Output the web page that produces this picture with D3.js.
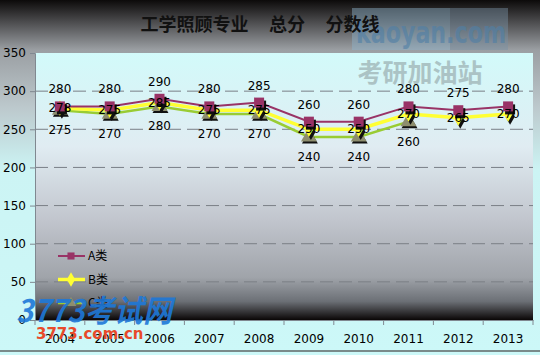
<!DOCTYPE html>
<html>
<head>
<meta charset="utf-8">
<script src="https://cdn.jsdelivr.net/npm/d3@7"></script>
<style>
  body { margin: 0; }
  svg { display: block; }
  text { font-family: "DejaVu Sans", sans-serif; }
</style>
</head>
<body>
<svg id="chart" width="540" height="355"></svg>
<script>
// data
const years = ['2004', '2005', '2006', '2007', '2008', '2009', '2010', '2011', '2012', '2013'];
const seriesA = [280, 280, 290, 280, 285, 260, 260, 280, 275, 280];
const seriesB = [278, 275, 285, 275, 275, 250, 250, 270, 265, 270];
const seriesC = [275, 270, 280, 270, 270, 240, 240, 260, null, null];
const yTicks = [0, 50, 100, 150, 200, 250, 300, 350];
const title = '工学照顾专业\u00a0\u00a0\u00a0\u00a0\u00a0总分\u00a0\u00a0\u00a0\u00a0\u00a0分数线';

const svg = d3.select('#chart');
const plotLeft = 35, plotRight = 533, plotTop = 53, plotBottom = 320;

// gradients
const defs = svg.append('defs');
const bg = defs.append('linearGradient').attr('id', 'bg').attr('x1', 0).attr('y1', 0).attr('x2', 0).attr('y2', 1);
[[0, '#0c0a0a'], [0.06, '#4a4a4c'], [0.14, '#9a9ea2'], [0.3, '#bcc8cc'], [0.48, '#ccf4f4'], [1, '#ccf8f8']]
  .forEach(([o, c]) => bg.append('stop').attr('offset', o).attr('stop-color', c));
const pg = defs.append('linearGradient').attr('id', 'pg').attr('x1', 0).attr('y1', 0).attr('x2', 0).attr('y2', 1);
[[0, '#d2fafa'], [0.35, '#e0ecf2'], [0.62, '#c2c6ce'], [0.84, '#a0a4aa'], [0.93, '#6c7076'], [1, '#0a0606']]
  .forEach(([o, c]) => pg.append('stop').attr('offset', o).attr('stop-color', c));

svg.append('rect').attr('width', 540).attr('height', 355).attr('fill', 'url(#bg)');
svg.append('rect').attr('x', plotLeft).attr('y', plotTop).attr('width', plotRight - plotLeft).attr('height', plotBottom - plotTop)
  .attr('fill', 'url(#pg)');
svg.append('line').attr('x1', 0).attr('x2', 540).attr('y1', 351).attr('y2', 351).attr('stroke', '#7a8a8a').attr('stroke-width', 2);

// scales
const x = d3.scaleBand().domain(years).range([plotLeft, plotRight]);
const y = d3.scaleLinear().domain([0, 350]).range([plotBottom, plotTop]);

// watermarks
svg.append('rect').attr('x', 352).attr('y', 8).attr('width', 98).attr('height', 42).attr('fill', '#8fb4cc').attr('opacity', 0.45);
svg.append('rect').attr('x', 450).attr('y', 8).attr('width', 58).attr('height', 42).attr('fill', '#7890a4').attr('opacity', 0.45);
svg.append('text').attr('x', 356).attr('y', 43)
  .attr('font-size', 30).attr('font-weight', 'bold').attr('textLength', 150).attr('lengthAdjust', 'spacingAndGlyphs')
  .attr('fill', '#4f7fa6').attr('opacity', 0.6).text('kaoyan.com');
svg.append('text').attr('x', 420).attr('y', 82).attr('text-anchor', 'middle')
  .style('font-family', '"Noto Sans CJK SC"').attr('font-size', 25).attr('font-weight', 'bold')
  .attr('fill', '#8a9a9c').attr('opacity', 0.55).text('考研加油站');

// grid
svg.append('g')
  .selectAll('line')
  .data(yTicks.filter(d => d > 0 && d < 350))
  .enter()
  .append('line')
  .attr('x1', plotLeft).attr('x2', plotRight)
  .attr('y1', d => y(d)).attr('y2', d => y(d))
  .attr('stroke', '#7a7f86').attr('stroke-dasharray', '13,6');

// y axis
const yAxis = svg.append('g').attr('transform', `translate(${plotLeft},0)`)
  .call(d3.axisLeft(y).tickValues(yTicks).tickSize(5).tickPadding(4));
yAxis.select('.domain').attr('stroke', '#808890');
yAxis.selectAll('.tick line').attr('stroke', '#808890');
yAxis.selectAll('text').attr('font-size', 12).attr('fill', '#000');

// x axis
const xAxis = svg.append('g').attr('transform', `translate(0,${plotBottom})`)
  .call(d3.axisBottom(x).tickSize(0).tickPadding(14));
xAxis.select('.domain').attr('stroke', '#808890');
xAxis.selectAll('text').attr('font-size', 12).attr('fill', '#000');
svg.append('g').selectAll('line')
  .data(years.concat(['end']))
  .enter().append('line')
  .attr('x1', (d, i) => plotLeft + i * x.bandwidth()).attr('x2', (d, i) => plotLeft + i * x.bandwidth())
  .attr('y1', plotBottom).attr('y2', plotBottom + 5).attr('stroke', '#808890');

// title
svg.append('text').attr('x', 260).attr('y', 31).attr('text-anchor', 'middle')
  .style('font-family', '"Noto Sans CJK SC"').attr('font-size', 18).attr('font-weight', 'bold')
  .attr('fill', '#111').text(title);

const cx = i => x(years[i]) + x.bandwidth() / 2;
const line = d3.line().defined(d => d != null).x((d, i) => cx(i)).y(d => y(d));

const series = [
  { name: 'A类', values: seriesA, color: '#993366', width: 2, marker: 'square', labelDy: -13 },
  { name: 'B类', values: seriesB, color: '#ffff33', width: 3.5, marker: 'diamond', labelDy: 4 },
  { name: 'C类', values: seriesC, color: '#99cc33', width: 2.5, marker: 'triangle', labelDy: 24 }
];

function drawMarker(g, type, px, py, color) {
  const sym = type === 'square' ? d3.symbolSquare : type === 'diamond' ? d3.symbolDiamond : d3.symbolTriangle;
  const size = type === 'square' ? 100 : type === 'diamond' ? 70 : 110;
  const path = d3.symbol().type(sym).size(size)();
  const dx = type === 'triangle' ? 1 : 2, dy = type === 'triangle' ? 2 : 3;
  g.append('path').attr('d', path).attr('transform', `translate(${px + dx},${py + dy})`).attr('fill', '#111');
  g.append('path').attr('d', path).attr('transform', `translate(${px},${py})`)
    .attr('fill', type === 'triangle' ? '#8e8e6e' : color);
}

// draw lines bottom-up so A sits on top
[...series].reverse().forEach(s => {
  svg.append('path').datum(s.values).attr('d', line)
    .attr('fill', 'none').attr('stroke', s.color).attr('stroke-width', s.width);
});
[...series].reverse().forEach(s => {
  const g = svg.append('g');
  s.values.forEach((v, i) => { if (v != null) drawMarker(g, s.marker, cx(i), y(v), s.color); });
});
series.forEach(s => {
  svg.append('g').selectAll('text')
    .data(s.values.map((v, i) => ({ v, i })).filter(d => d.v != null))
    .enter().append('text')
    .attr('x', d => cx(d.i)).attr('y', d => y(d.v) + s.labelDy)
    .attr('text-anchor', 'middle').attr('font-size', 12).attr('fill', '#000')
    .text(d => d.v);
});

// legend
const legend = svg.append('g');
series.forEach((s, i) => {
  const ly = 256 + i * 23.5;
  legend.append('line').attr('x1', 58).attr('x2', 85).attr('y1', ly).attr('y2', ly)
    .attr('stroke', s.color).attr('stroke-width', s.width);
  const sym = s.marker === 'square' ? d3.symbolSquare : s.marker === 'diamond' ? d3.symbolDiamond : d3.symbolTriangle;
  legend.append('path').attr('d', d3.symbol().type(sym).size(s.marker === 'diamond' ? 60 : 50)())
    .attr('transform', `translate(71,${ly})`).attr('fill', s.marker === 'triangle' ? '#8e8e6e' : s.color);
  legend.append('text').attr('x', 88).attr('y', ly + 4).attr('font-size', 12)
    .style('font-family', '"Noto Sans CJK SC"').attr('fill', '#000').text(s.name);
});

// bottom-left watermark
svg.append('text').attr('x', 16).attr('y', 322)
  .style('font-family', '"Noto Sans CJK SC"').attr('font-size', 31).attr('font-weight', 'bold').attr('font-style', 'italic')
  .attr('textLength', 156).attr('lengthAdjust', 'spacingAndGlyphs')
  .attr('fill', '#1e78d8').attr('opacity', 0.9).text('3773考试网');
svg.append('text').attr('x', 36).attr('y', 339)
  .attr('font-size', 15).attr('font-weight', 'bold').attr('fill', '#e84a2a').text('3773.com.cn');
</script>
</body>
</html>
